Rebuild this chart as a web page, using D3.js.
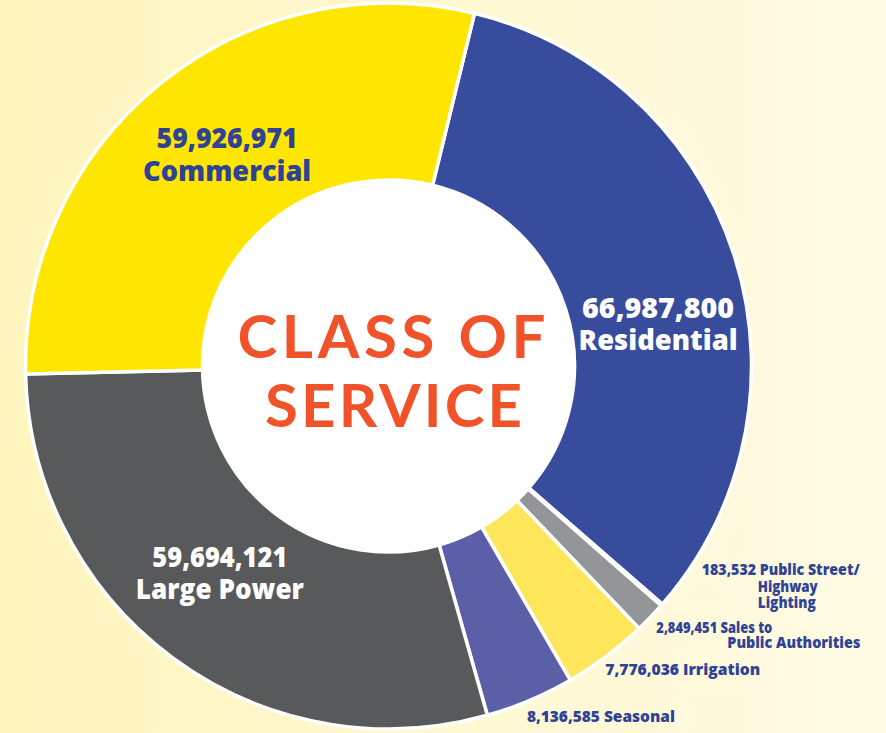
<!DOCTYPE html>
<html>
<head>
<meta charset="utf-8">
<script src="https://cdn.jsdelivr.net/npm/d3@7.9.0/dist/d3.min.js"></script>
<style>
  html, body { margin: 0; padding: 0; }
  body { width: 886px; height: 733px; overflow: hidden; }
</style>
</head>
<body>
<svg id="chart" width="886" height="733"></svg>
<script>
// values, clockwise from the top
const categories = ["Residential", "Public Street/ Highway Lighting", "Sales to Public Authorities",
  "Irrigation", "Seasonal", "Large Power", "Commercial"];
const values = [66987800, 183532, 2849451, 7776036, 8136585, 59694121, 59926971];
const colors = ["#374c9c", "#374c9c", "#939598", "#fde65a", "#5a5fa8", "#58595b", "#ffe600"];
const labelLines = [
  ["Residential"],
  ["Public Street/", "Highway", "Lighting"],
  ["Sales to", "Public Authorities"],
  ["Irrigation"],
  ["Seasonal"],
  ["Large Power"],
  ["Commercial"]
];

const width = 886, height = 733;
const cx = 388.5, cy = 366;
const outerR = 363, innerR = 186;
const navy = "#2f4396";
const font = "'Open Sans', Lato, sans-serif";

const svg = d3.select("#chart");

// background
const defs = svg.append("defs");
const grad = defs.append("linearGradient").attr("id", "bg")
  .attr("x1", "0%").attr("y1", "0%").attr("x2", "100%").attr("y2", "0%");
grad.append("stop").attr("offset", "0%").attr("stop-color", "#fff5be");
grad.append("stop").attr("offset", "100%").attr("stop-color", "#fffbe4");
svg.append("rect").attr("width", width).attr("height", height).attr("fill", "url(#bg)");

const start = 13.7 * Math.PI / 180;
const pie = d3.pie().sort(null).value(d => d)
  .startAngle(start).endAngle(start + 2 * Math.PI);
const arcs = pie(values);
const arc = d3.arc().innerRadius(innerR).outerRadius(outerR);

const g = svg.append("g").attr("transform", `translate(${cx},${cy})`);

g.selectAll("path")
  .data(arcs)
  .join("path")
  .attr("d", arc)
  .attr("fill", (_, i) => colors[i])
  .attr("stroke", "#fff")
  .attr("stroke-width", 3.5)
  .attr("stroke-linejoin", "miter");

g.append("circle").attr("r", innerR - 1).attr("fill", "#fff");

// centre title
const title = g.append("text")
  .attr("text-anchor", "middle")
  .attr("fill", "#f0522a")
  .attr("font-family", "Lato, 'Open Sans', sans-serif")
  .attr("font-weight", 700)
  .attr("font-size", 60);
title.append("tspan").attr("x", 3).attr("y", -8).attr("textLength", 308).attr("lengthAdjust", "spacing").text("CLASS OF");
title.append("tspan").attr("x", 5).attr("y", 61).attr("textLength", 257).attr("lengthAdjust", "spacing").text("SERVICE");

const fmt = d3.format(",");

// big labels inside the ring, nudged from the slice centroid
const big = [
  { i: 0, dx: 8, dy: 35, fill: "#fff", w: [152, 159] },
  { i: 5, dx: -5.5, dy: -20, fill: "#fff", w: [135, 168] },
  { i: 6, dx: 10.5, dy: -4, fill: navy, w: [141, 168] }
];
big.forEach(b => {
  const [x0, y0] = arc.centroid(arcs[b.i]);
  const x = x0 + b.dx, y = y0 + b.dy;
  [fmt(values[b.i]), labelLines[b.i][0]].forEach((txt, k) => {
    g.append("text")
      .attr("text-anchor", "middle")
      .attr("fill", b.fill)
      .attr("font-family", font)
      .attr("font-weight", 800)
      .attr("font-size", 28.5)
      .attr("x", x).attr("y", y + 32.5 * k)
      .attr("textLength", b.w[k]).attr("lengthAdjust", "spacingAndGlyphs")
      .text(txt);
  });
});

// small labels outside the ring
const small = [
  { i: 1, dx: 40, dy: -30, indent: 56, lh: 16.5, w: [158, 60, 58] },
  { i: 2, dx: 6, dy: 16, indent: 71, lh: 14.5, w: [116, 133] },
  { i: 3, dx: -1, dy: 19, indent: 0, lh: 15, w: [155] },
  { i: 4, dx: -3, dy: 22, indent: 0, lh: 15, w: [148] }
];
small.forEach(s => {
  const a = arcs[s.i];
  const mid = (a.startAngle + a.endAngle) / 2;
  const x = outerR * Math.sin(mid) + s.dx, y = -outerR * Math.cos(mid) + s.dy;
  const lines = labelLines[s.i];
  const texts = [fmt(values[s.i]) + " " + lines[0]].concat(lines.slice(1));
  texts.forEach((txt, k) => {
    g.append("text")
      .attr("fill", navy)
      .attr("font-family", font)
      .attr("font-weight", 800)
      .attr("font-size", 16)
      .attr("x", k === 0 ? x : x + s.indent)
      .attr("y", y + s.lh * k)
      .attr("textLength", s.w[k]).attr("lengthAdjust", "spacingAndGlyphs")
      .text(txt);
  });
});
</script>
</body>
</html>
